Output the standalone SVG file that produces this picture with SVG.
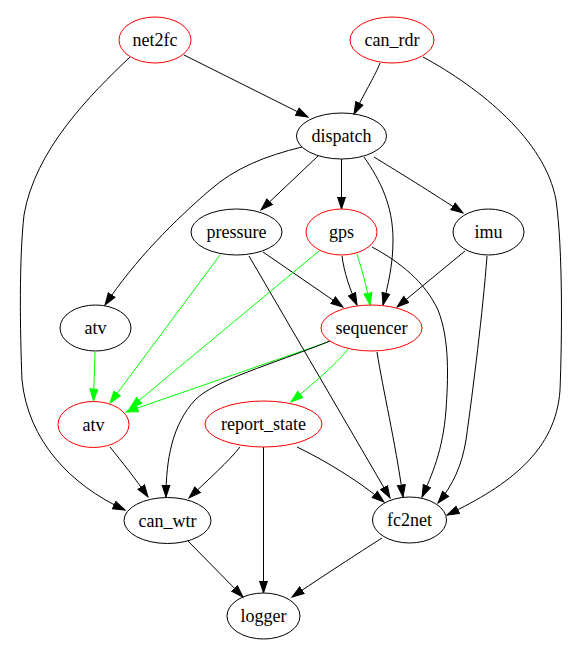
<svg xmlns="http://www.w3.org/2000/svg" width="580" height="657" viewBox="0 0 580 657">
<style>
  .n ellipse { fill: none; stroke: #000; stroke-width: 1; }
  .n.r ellipse { stroke: #ff0000; }
  .n text { font-family: "Liberation Serif", "Times New Roman", serif; font-size: 18px; text-anchor: middle; fill: #000; }
  .e path { fill: none; stroke: #000; stroke-width: 1; marker-end: url(#ab); }
  .e path.g { stroke: #00ff00; marker-end: url(#ag); }
</style>
<defs>
  <marker id="ab" markerUnits="userSpaceOnUse" markerWidth="14" markerHeight="10" viewBox="0 -5 13 10" refX="12" refY="0" orient="auto">
    <path d="M0,-4 L12,0 L0,4 z" fill="#000" stroke="#000" stroke-width="1"/>
  </marker>
  <marker id="ag" markerUnits="userSpaceOnUse" markerWidth="14" markerHeight="10" viewBox="0 -5 13 10" refX="12" refY="0" orient="auto">
    <path d="M0,-4 L12,0 L0,4 z" fill="#00ff00" stroke="#00ff00" stroke-width="1"/>
  </marker>
</defs>
<rect width="580" height="657" fill="#fff"/>
<g id="edges" class="e">
  <path d="M184,55 L308,117"/>
  <path d="M380,63 C375,76 367,88 354,114"/>
  <path d="M423,57 C480,88 545,140 556,200 C563,250 562,340 560,390 C556,450 510,485 447,515"/>
  <path d="M130,57 C90,95 35,150 24,215 C19,260 20,330 22,380 C28,440 70,485 125,510"/>
  <path d="M302,147 C265,156 235,168 210,190 C175,220 135,260 105,305"/>
  <path d="M318,156 L261,210"/>
  <path d="M341.5,159 L341.5,209"/>
  <path d="M364,157 C380,180 393,205 393,240 C393,265 388,285 383,305"/>
  <path d="M374,157 C395,170 420,185 463,213"/>
  <path d="M263,252 L343,307"/>
  <path d="M249,256 L390,498"/>
  <path class="g" d="M220,255 L110,403"/>
  <path class="g" d="M319,251 L130,408"/>
  <path d="M342,256 C344,272 350,290 357,305"/>
  <path class="g" d="M357,254 C362,270 367,288 370,305"/>
  <path d="M372,247 C400,262 425,282 438,310 C450,340 448,380 446,410 C443,450 432,475 422,497"/>
  <path d="M465,251 L397,307"/>
  <path d="M487,256 C483,310 473,390 466,440 C462,465 453,485 438,503"/>
  <path d="M377,352 C383,390 395,440 403,497"/>
  <path class="g" d="M348,349 C338,362 320,378 291,402"/>
  <path class="g" d="M328,342 L126,412"/>
  <path class="g" d="M95,352 L93.5,401"/>
  <path d="M330,341 C270,365 215,380 195,400 C172,425 166,460 166,497"/>
  <path d="M110,447 C122,462 135,478 148,497"/>
  <path d="M240,447 C228,462 210,478 189,498"/>
  <path d="M263.5,447 L263.5,593"/>
  <path d="M297,447 C320,458 355,478 384,502"/>
  <path d="M188,541 L243,597"/>
  <path d="M382,538 C360,552 320,578 292,597"/>
</g>
<g id="net2fc" class="n r"><ellipse cx="155" cy="40" rx="36" ry="23"/><text x="155" y="46">net2fc</text></g>
<g id="can_rdr" class="n r"><ellipse cx="392" cy="40" rx="42" ry="23"/><text x="392" y="46">can_rdr</text></g>
<g id="dispatch" class="n"><ellipse cx="341.5" cy="136" rx="45" ry="23"/><text x="341.5" y="142">dispatch</text></g>
<g id="pressure" class="n"><ellipse cx="236.5" cy="232" rx="45.5" ry="23"/><text x="236.5" y="238">pressure</text></g>
<g id="gps" class="n r"><ellipse cx="341.5" cy="232" rx="35.5" ry="23"/><text x="341.5" y="238">gps</text></g>
<g id="imu" class="n"><ellipse cx="488.5" cy="232" rx="35.5" ry="23"/><text x="488.5" y="238">imu</text></g>
<g id="atv1" class="n"><ellipse cx="95.5" cy="328" rx="35.5" ry="23"/><text x="95.5" y="334">atv</text></g>
<g id="sequencer" class="n r"><ellipse cx="371.5" cy="328" rx="50.5" ry="23"/><text x="371.5" y="334">sequencer</text></g>
<g id="atv2" class="n r"><ellipse cx="93.5" cy="424.5" rx="35.5" ry="23"/><text x="93.5" y="430.5">atv</text></g>
<g id="report_state" class="n r"><ellipse cx="263.5" cy="424" rx="58.5" ry="23"/><text x="263.5" y="430">report_state</text></g>
<g id="can_wtr" class="n"><ellipse cx="167.5" cy="520.5" rx="43.5" ry="23"/><text x="167.5" y="526.5">can_wtr</text></g>
<g id="fc2net" class="n"><ellipse cx="409.5" cy="520" rx="37" ry="23"/><text x="409.5" y="526">fc2net</text></g>
<g id="logger" class="n"><ellipse cx="263.5" cy="616" rx="36.5" ry="23"/><text x="263.5" y="622">logger</text></g>
</svg>
